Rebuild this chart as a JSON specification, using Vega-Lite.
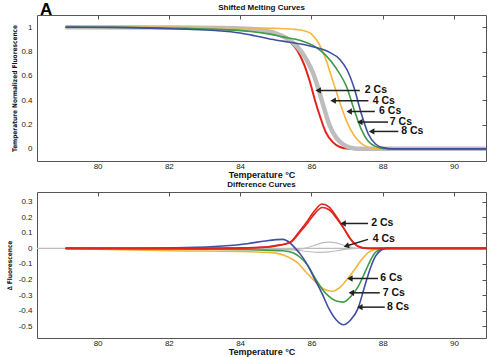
{
  "$schema": "https://vega.github.io/schema/vega-lite/v6.json",
  "background": "white",
  "padding": {"left": 5, "top": 0, "right": 0, "bottom": 0},
  "config": {
    "font": "Liberation Sans",
    "view": {"stroke": "#555", "strokeWidth": 1},
    "axis": {"labelFont": "Liberation Sans", "labelFontSize": 8, "labelColor": "#222", "titleFont": "Liberation Sans", "titleColor": "#111", "domain": false, "ticks": false, "grid": false, "tickColor": "#555"}
  },
  "spacing": 31,
  "bounds": "flush",
  "resolve": {"scale": {"color": "independent"}},
  "datasets": {
    "melt": [
      {"s":"6 Cs","t":79.1,"f":1},{"s":"6 Cs","t":82,"f":0.998},{"s":"6 Cs","t":84,"f":0.995},{"s":"6 Cs","t":85,"f":0.99},{"s":"6 Cs","t":85.5,"f":0.983},{"s":"6 Cs","t":85.8,"f":0.97},{"s":"6 Cs","t":86.0,"f":0.945},{"s":"6 Cs","t":86.2,"f":0.87},{"s":"6 Cs","t":86.4,"f":0.74},{"s":"6 Cs","t":86.6,"f":0.56},{"s":"6 Cs","t":86.8,"f":0.38},{"s":"6 Cs","t":87.0,"f":0.22},{"s":"6 Cs","t":87.2,"f":0.11},{"s":"6 Cs","t":87.4,"f":0.045},{"s":"6 Cs","t":87.6,"f":0.012},{"s":"6 Cs","t":87.8,"f":0},{"s":"6 Cs","t":90.9,"f":0},
      {"s":"7 Cs","t":79.1,"f":1},{"s":"7 Cs","t":81,"f":0.997},{"s":"7 Cs","t":82.5,"f":0.99},{"s":"7 Cs","t":83.5,"f":0.98},{"s":"7 Cs","t":84.3,"f":0.965},{"s":"7 Cs","t":84.8,"f":0.945},{"s":"7 Cs","t":85.2,"f":0.92},{"s":"7 Cs","t":85.7,"f":0.89},{"s":"7 Cs","t":86.1,"f":0.84},{"s":"7 Cs","t":86.4,"f":0.77},{"s":"7 Cs","t":86.7,"f":0.66},{"s":"7 Cs","t":87.0,"f":0.5},{"s":"7 Cs","t":87.2,"f":0.32},{"s":"7 Cs","t":87.4,"f":0.16},{"s":"7 Cs","t":87.6,"f":0.06},{"s":"7 Cs","t":87.8,"f":0.02},{"s":"7 Cs","t":88.0,"f":0.004},{"s":"7 Cs","t":88.2,"f":0},{"s":"7 Cs","t":90.9,"f":0},
      {"s":"8 Cs","t":79.1,"f":1},{"s":"8 Cs","t":80.5,"f":0.998},{"s":"8 Cs","t":81.5,"f":0.992},{"s":"8 Cs","t":82.5,"f":0.983},{"s":"8 Cs","t":83.3,"f":0.972},{"s":"8 Cs","t":84.0,"f":0.952},{"s":"8 Cs","t":84.4,"f":0.93},{"s":"8 Cs","t":84.8,"f":0.905},{"s":"8 Cs","t":85.2,"f":0.885},{"s":"8 Cs","t":85.7,"f":0.862},{"s":"8 Cs","t":86.1,"f":0.835},{"s":"8 Cs","t":86.5,"f":0.795},{"s":"8 Cs","t":86.8,"f":0.735},{"s":"8 Cs","t":87.0,"f":0.65},{"s":"8 Cs","t":87.2,"f":0.5},{"s":"8 Cs","t":87.4,"f":0.29},{"s":"8 Cs","t":87.6,"f":0.12},{"s":"8 Cs","t":87.8,"f":0.04},{"s":"8 Cs","t":88.0,"f":0.01},{"s":"8 Cs","t":88.3,"f":0},{"s":"8 Cs","t":90.9,"f":0},
      {"s":"4 Cs","t":79.1,"f":1},{"s":"4 Cs","t":82,"f":0.997},{"s":"4 Cs","t":84,"f":0.99},{"s":"4 Cs","t":84.6,"f":0.975},{"s":"4 Cs","t":85.0,"f":0.95},{"s":"4 Cs","t":85.3,"f":0.91},{"s":"4 Cs","t":85.6,"f":0.84},{"s":"4 Cs","t":85.85,"f":0.74},{"s":"4 Cs","t":86.05,"f":0.62},{"s":"4 Cs","t":86.2,"f":0.49},{"s":"4 Cs","t":86.35,"f":0.34},{"s":"4 Cs","t":86.5,"f":0.2},{"s":"4 Cs","t":86.7,"f":0.09},{"s":"4 Cs","t":86.9,"f":0.035},{"s":"4 Cs","t":87.1,"f":0.01},{"s":"4 Cs","t":87.3,"f":0},{"s":"4 Cs","t":90.9,"f":0},
      {"s":"2 Cs","t":79.1,"f":1},{"s":"2 Cs","t":82,"f":0.995},{"s":"2 Cs","t":83.5,"f":0.985},{"s":"2 Cs","t":84.3,"f":0.97},{"s":"2 Cs","t":84.8,"f":0.95},{"s":"2 Cs","t":85.1,"f":0.93},{"s":"2 Cs","t":85.4,"f":0.88},{"s":"2 Cs","t":85.6,"f":0.81},{"s":"2 Cs","t":85.8,"f":0.69},{"s":"2 Cs","t":85.95,"f":0.56},{"s":"2 Cs","t":86.1,"f":0.4},{"s":"2 Cs","t":86.25,"f":0.26},{"s":"2 Cs","t":86.4,"f":0.14},{"s":"2 Cs","t":86.6,"f":0.055},{"s":"2 Cs","t":86.8,"f":0.015},{"s":"2 Cs","t":87.0,"f":0.003},{"s":"2 Cs","t":87.2,"f":0},{"s":"2 Cs","t":90.9,"f":0}
    ],
    "diff": [
      {"s":"4 Cs","r":"base","t":78.3,"d":0},{"s":"4 Cs","r":"base","t":90.9,"d":0},
      {"s":"4 Cs","r":"hi","t":79.1,"d":0},{"s":"4 Cs","r":"hi","t":84,"d":0},{"s":"4 Cs","r":"hi","t":85,"d":-0.005},{"s":"4 Cs","r":"hi","t":85.5,"d":-0.008},{"s":"4 Cs","r":"hi","t":85.8,"d":0},{"s":"4 Cs","r":"hi","t":86.1,"d":0.02},{"s":"4 Cs","r":"hi","t":86.3,"d":0.035},{"s":"4 Cs","r":"hi","t":86.5,"d":0.04},{"s":"4 Cs","r":"hi","t":86.7,"d":0.035},{"s":"4 Cs","r":"hi","t":86.9,"d":0.02},{"s":"4 Cs","r":"hi","t":87.1,"d":0.008},{"s":"4 Cs","r":"hi","t":87.3,"d":0},{"s":"4 Cs","r":"hi","t":90.9,"d":0},
      {"s":"4 Cs","r":"lo","t":79.1,"d":0},{"s":"4 Cs","r":"lo","t":85,"d":-0.003},{"s":"4 Cs","r":"lo","t":85.5,"d":-0.01},{"s":"4 Cs","r":"lo","t":85.9,"d":-0.02},{"s":"4 Cs","r":"lo","t":86.2,"d":-0.025},{"s":"4 Cs","r":"lo","t":86.4,"d":-0.024},{"s":"4 Cs","r":"lo","t":86.7,"d":-0.015},{"s":"4 Cs","r":"lo","t":87.0,"d":-0.005},{"s":"4 Cs","r":"lo","t":87.3,"d":0},{"s":"4 Cs","r":"lo","t":90.9,"d":0},
      {"s":"6 Cs","r":"a","t":79.1,"d":0},{"s":"6 Cs","r":"a","t":80,"d":-0.005},{"s":"6 Cs","r":"a","t":82,"d":-0.015},{"s":"6 Cs","r":"a","t":84,"d":-0.02},{"s":"6 Cs","r":"a","t":85,"d":-0.03},{"s":"6 Cs","r":"a","t":85.3,"d":-0.05},{"s":"6 Cs","r":"a","t":85.6,"d":-0.09},{"s":"6 Cs","r":"a","t":85.86,"d":-0.155},{"s":"6 Cs","r":"a","t":86.05,"d":-0.2},{"s":"6 Cs","r":"a","t":86.25,"d":-0.245},{"s":"6 Cs","r":"a","t":86.45,"d":-0.27},{"s":"6 Cs","r":"a","t":86.6,"d":-0.275},{"s":"6 Cs","r":"a","t":86.8,"d":-0.25},{"s":"6 Cs","r":"a","t":87.0,"d":-0.2},{"s":"6 Cs","r":"a","t":87.2,"d":-0.14},{"s":"6 Cs","r":"a","t":87.4,"d":-0.075},{"s":"6 Cs","r":"a","t":87.6,"d":-0.025},{"s":"6 Cs","r":"a","t":87.8,"d":-0.005},{"s":"6 Cs","r":"a","t":88.0,"d":0},{"s":"6 Cs","r":"a","t":90.9,"d":0},
      {"s":"7 Cs","r":"a","t":79.1,"d":0},{"s":"7 Cs","r":"a","t":83,"d":-0.005},{"s":"7 Cs","r":"a","t":84.5,"d":-0.01},{"s":"7 Cs","r":"a","t":85.2,"d":-0.015},{"s":"7 Cs","r":"a","t":85.5,"d":-0.03},{"s":"7 Cs","r":"a","t":85.7,"d":-0.06},{"s":"7 Cs","r":"a","t":85.9,"d":-0.11},{"s":"7 Cs","r":"a","t":86.1,"d":-0.19},{"s":"7 Cs","r":"a","t":86.3,"d":-0.26},{"s":"7 Cs","r":"a","t":86.5,"d":-0.31},{"s":"7 Cs","r":"a","t":86.7,"d":-0.338},{"s":"7 Cs","r":"a","t":86.9,"d":-0.345},{"s":"7 Cs","r":"a","t":87.1,"d":-0.31},{"s":"7 Cs","r":"a","t":87.3,"d":-0.25},{"s":"7 Cs","r":"a","t":87.5,"d":-0.155},{"s":"7 Cs","r":"a","t":87.65,"d":-0.08},{"s":"7 Cs","r":"a","t":87.8,"d":-0.025},{"s":"7 Cs","r":"a","t":87.95,"d":-0.005},{"s":"7 Cs","r":"a","t":88.1,"d":0},{"s":"7 Cs","r":"a","t":90.9,"d":0},
      {"s":"8 Cs","r":"a","t":79.1,"d":0},{"s":"8 Cs","r":"a","t":81,"d":0.001},{"s":"8 Cs","r":"a","t":82.5,"d":0.005},{"s":"8 Cs","r":"a","t":83.5,"d":0.015},{"s":"8 Cs","r":"a","t":84.2,"d":0.03},{"s":"8 Cs","r":"a","t":84.7,"d":0.048},{"s":"8 Cs","r":"a","t":85.2,"d":0.058},{"s":"8 Cs","r":"a","t":85.4,"d":0.035},{"s":"8 Cs","r":"a","t":85.55,"d":0},{"s":"8 Cs","r":"a","t":85.7,"d":-0.04},{"s":"8 Cs","r":"a","t":85.9,"d":-0.11},{"s":"8 Cs","r":"a","t":86.1,"d":-0.2},{"s":"8 Cs","r":"a","t":86.3,"d":-0.29},{"s":"8 Cs","r":"a","t":86.5,"d":-0.39},{"s":"8 Cs","r":"a","t":86.7,"d":-0.46},{"s":"8 Cs","r":"a","t":86.9,"d":-0.49},{"s":"8 Cs","r":"a","t":87.1,"d":-0.46},{"s":"8 Cs","r":"a","t":87.3,"d":-0.39},{"s":"8 Cs","r":"a","t":87.5,"d":-0.24},{"s":"8 Cs","r":"a","t":87.65,"d":-0.13},{"s":"8 Cs","r":"a","t":87.8,"d":-0.05},{"s":"8 Cs","r":"a","t":87.95,"d":-0.012},{"s":"8 Cs","r":"a","t":88.1,"d":0},{"s":"8 Cs","r":"a","t":90.9,"d":0},
      {"s":"2 Cs","r":"a","t":79.1,"d":0},{"s":"2 Cs","r":"a","t":83,"d":0},{"s":"2 Cs","r":"a","t":84,"d":0.002},{"s":"2 Cs","r":"a","t":84.7,"d":0.008},{"s":"2 Cs","r":"a","t":85.0,"d":0.018},{"s":"2 Cs","r":"a","t":85.4,"d":0.04},{"s":"2 Cs","r":"a","t":85.7,"d":0.12},{"s":"2 Cs","r":"a","t":85.9,"d":0.18},{"s":"2 Cs","r":"a","t":86.1,"d":0.245},{"s":"2 Cs","r":"a","t":86.3,"d":0.285},{"s":"2 Cs","r":"a","t":86.5,"d":0.265},{"s":"2 Cs","r":"a","t":86.7,"d":0.205},{"s":"2 Cs","r":"a","t":86.9,"d":0.135},{"s":"2 Cs","r":"a","t":87.1,"d":0.06},{"s":"2 Cs","r":"a","t":87.3,"d":0.015},{"s":"2 Cs","r":"a","t":87.5,"d":0.002},{"s":"2 Cs","r":"a","t":87.7,"d":0},{"s":"2 Cs","r":"a","t":90.9,"d":0},
      {"s":"2 Cs","r":"b","t":79.1,"d":0},{"s":"2 Cs","r":"b","t":83,"d":0},{"s":"2 Cs","r":"b","t":84,"d":0.002},{"s":"2 Cs","r":"b","t":84.7,"d":0.007},{"s":"2 Cs","r":"b","t":85.0,"d":0.016},{"s":"2 Cs","r":"b","t":85.4,"d":0.037},{"s":"2 Cs","r":"b","t":85.7,"d":0.11},{"s":"2 Cs","r":"b","t":85.9,"d":0.165},{"s":"2 Cs","r":"b","t":86.1,"d":0.225},{"s":"2 Cs","r":"b","t":86.3,"d":0.263},{"s":"2 Cs","r":"b","t":86.5,"d":0.248},{"s":"2 Cs","r":"b","t":86.7,"d":0.195},{"s":"2 Cs","r":"b","t":86.9,"d":0.13},{"s":"2 Cs","r":"b","t":87.1,"d":0.058},{"s":"2 Cs","r":"b","t":87.3,"d":0.014},{"s":"2 Cs","r":"b","t":87.5,"d":0.002},{"s":"2 Cs","r":"b","t":87.7,"d":0},{"s":"2 Cs","r":"b","t":90.9,"d":0}
    ],
    "arrows": [
      {"p":"top","label":"2 Cs","x1":87.36,"y1":0.48,"x2":86.19,"y2":0.48,"tx":87.5,"ty":0.48},
      {"p":"top","label":"4 Cs","x1":87.6,"y1":0.396,"x2":86.61,"y2":0.396,"tx":87.72,"ty":0.396},
      {"p":"top","label":"6 Cs","x1":87.78,"y1":0.307,"x2":87.06,"y2":0.307,"tx":87.9,"ty":0.307},
      {"p":"top","label":"7 Cs","x1":88.15,"y1":0.22,"x2":87.36,"y2":0.22,"tx":88.2,"ty":0.22},
      {"p":"top","label":"8 Cs","x1":88.44,"y1":0.143,"x2":87.69,"y2":0.143,"tx":88.52,"ty":0.143},
      {"p":"bot","label":"2 Cs","x1":87.59,"y1":0.16,"x2":86.89,"y2":0.16,"tx":87.68,"ty":0.16},
      {"p":"bot","label":"4 Cs","x1":87.59,"y1":0.058,"x2":86.98,"y2":0.015,"tx":87.72,"ty":0.062},
      {"p":"bot","label":"6 Cs","x1":87.87,"y1":-0.193,"x2":87.08,"y2":-0.193,"tx":87.93,"ty":-0.193},
      {"p":"bot","label":"7 Cs","x1":87.92,"y1":-0.285,"x2":87.12,"y2":-0.285,"tx":88.0,"ty":-0.285},
      {"p":"bot","label":"8 Cs","x1":88.06,"y1":-0.377,"x2":87.36,"y2":-0.377,"tx":88.12,"ty":-0.377}
    ]
  },
  "vconcat": [
    {
      "width": 449,
      "height": 146,
      "layer": [
        {
          "data": {"name": "melt"},
          "transform": [{"filter": "datum.s === '2 Cs'"}],
          "mark": {"type": "line", "strokeWidth": 2, "color": "#e2231a", "interpolate": "monotone"},
          "encoding": {
            "x": {"field": "t", "type": "quantitative", "scale": {"domain": [78.3, 90.9], "nice": false, "zero": false},
                  "axis": {"orient": "bottom", "title": "Temperature °C", "values": [80, 82, 84, 86, 88, 90], "labelPadding": 1, "titlePadding": 0, "titleFontSize": 9, "titleFontWeight": "bold"}},
            "y": {"field": "f", "type": "quantitative", "scale": {"domain": [-0.1, 1.1], "nice": false, "zero": false},
                  "axis": {"orient": "left", "title": "Temperature Normalized Fluorescence", "values": [0, 0.2, 0.4, 0.6, 0.8, 1], "labelExpr": "'' + datum.value", "labelPadding": 5, "titleFont": "DejaVu Sans Condensed, Liberation Sans Narrow, Liberation Sans, sans-serif", "titleFontSize": 6.5, "titleFontWeight": "bold", "titlePadding": 3}}
          }
        },
        {
          "data": {"name": "melt"},
          "transform": [{"filter": "datum.s === '4 Cs'"}],
          "mark": {"type": "line", "strokeWidth": 4.5, "color": "#bdbdbd", "interpolate": "monotone"},
          "encoding": {
            "x": {"field": "t", "type": "quantitative", "axis": {"orient": "top", "labels": false, "ticks": true, "tickSize": -4, "title": null, "values": [80, 82, 84, 86, 88, 90]}},
            "y": {"field": "f", "type": "quantitative", "axis": {"orient": "right", "labels": false, "ticks": true, "tickSize": -4, "title": null, "values": [0, 0.2, 0.4, 0.6, 0.8, 1]}}
          }
        },
        {
          "data": {"name": "melt"},
          "transform": [{"filter": "datum.s !== '4 Cs' && datum.s !== '2 Cs'"}],
          "mark": {"type": "line", "strokeWidth": 1.6, "interpolate": "monotone"},
          "encoding": {
            "x": {"field": "t", "type": "quantitative", "axis": null},
            "y": {"field": "f", "type": "quantitative", "axis": null},
            "color": {"field": "s", "type": "nominal", "scale": {"domain": ["6 Cs", "7 Cs", "8 Cs"], "range": ["#f4b63c", "#3f9b45", "#3f4fa0"]}, "legend": null}
          }
        },
        {
          "data": {"name": "arrows"},
          "transform": [{"filter": "datum.p === 'top'"}],
          "mark": {"type": "rule", "strokeWidth": 1.5, "color": "#222"},
          "encoding": {
            "x": {"field": "x1", "type": "quantitative", "axis": null},
            "x2": {"field": "x2"},
            "y": {"field": "y1", "type": "quantitative", "axis": null},
            "y2": {"field": "y2"}
          }
        },
        {
          "data": {"name": "arrows"},
          "transform": [{"filter": "datum.p === 'top'"}],
          "mark": {"type": "point", "shape": "triangle-left", "filled": true, "size": 40, "color": "#222", "opacity": 1},
          "encoding": {
            "x": {"field": "x2", "type": "quantitative", "axis": null},
            "y": {"field": "y2", "type": "quantitative", "axis": null}
          }
        },
        {
          "data": {"name": "arrows"},
          "transform": [{"filter": "datum.p === 'top'"}],
          "mark": {"type": "text", "align": "left", "baseline": "middle", "fontSize": 10.5, "fontWeight": "bold", "color": "#111"},
          "encoding": {
            "x": {"field": "tx", "type": "quantitative", "axis": null},
            "y": {"field": "ty", "type": "quantitative", "axis": null},
            "text": {"field": "label"}
          }
        },
        {
          "data": {"values": [{}]},
          "mark": {"type": "text", "text": "A", "align": "left", "baseline": "alphabetic", "fontSize": 17, "fontWeight": "bold", "color": "#000", "dx": 3, "dy": 0},
          "encoding": {
            "x": {"datum": 78.3, "type": "quantitative", "axis": null},
            "y": {"datum": 1.1, "type": "quantitative", "axis": null}
          }
        },
        {
          "data": {"values": [{}]},
          "mark": {"type": "text", "text": "Shifted Melting Curves", "align": "center", "baseline": "middle", "fontSize": 8, "fontWeight": "bold", "color": "#111", "dy": -7},
          "encoding": {
            "x": {"datum": 84.6, "type": "quantitative", "axis": null},
            "y": {"datum": 1.1, "type": "quantitative", "axis": null}
          }
        }
      ],
      "resolve": {"axis": {"x": "independent", "y": "independent"}}
    },
    {
      "width": 449,
      "height": 146,
      "layer": [
        {
          "data": {"name": "diff"},
          "transform": [{"filter": "datum.s === '4 Cs'"}],
          "mark": {"type": "line", "strokeWidth": 1.2, "color": "#bdbdbd", "interpolate": "monotone"},
          "encoding": {
            "x": {"field": "t", "type": "quantitative", "scale": {"domain": [78.3, 90.9], "nice": false, "zero": false},
                  "axis": {"orient": "bottom", "title": "Temperature °C", "values": [80, 82, 84, 86, 88, 90], "labelPadding": 1, "titlePadding": 0, "titleFontSize": 9, "titleFontWeight": "bold"}},
            "y": {"field": "d", "type": "quantitative", "scale": {"domain": [-0.575, 0.362], "nice": false, "zero": false},
                  "axis": {"orient": "left", "title": "∆ Fluorescence", "values": [-0.5, -0.4, -0.3, -0.2, -0.1, 0, 0.1, 0.2, 0.3], "labelExpr": "'' + datum.value", "labelPadding": 5, "titleFont": "DejaVu Sans Condensed, Liberation Sans Narrow, Liberation Sans, sans-serif", "titleFontSize": 6.5, "titleFontWeight": "bold", "titlePadding": 6}},
            "detail": {"field": "r"}
          }
        },
        {
          "data": {"name": "diff"},
          "transform": [{"filter": "datum.s !== '4 Cs'"}],
          "mark": {"type": "line", "strokeWidth": 1.6, "interpolate": "monotone"},
          "encoding": {
            "x": {"field": "t", "type": "quantitative", "axis": {"orient": "top", "labels": false, "ticks": true, "tickSize": -4, "title": null, "values": [80, 82, 84, 86, 88, 90]}},
            "y": {"field": "d", "type": "quantitative", "axis": {"orient": "right", "labels": false, "ticks": true, "tickSize": -4, "title": null, "values": [-0.5, -0.4, -0.3, -0.2, -0.1, 0, 0.1, 0.2, 0.3]}},
            "color": {"field": "s", "type": "nominal", "scale": {"domain": ["6 Cs", "7 Cs", "8 Cs", "2 Cs"], "range": ["#f4b63c", "#3f9b45", "#3f4fa0", "#e2231a"]}, "legend": null},
            "detail": {"field": "r"}
          }
        },
        {
          "data": {"name": "arrows"},
          "transform": [{"filter": "datum.p === 'bot'"}],
          "mark": {"type": "rule", "strokeWidth": 1.5, "color": "#222"},
          "encoding": {
            "x": {"field": "x1", "type": "quantitative", "axis": null},
            "x2": {"field": "x2"},
            "y": {"field": "y1", "type": "quantitative", "axis": null},
            "y2": {"field": "y2"}
          }
        },
        {
          "data": {"name": "arrows"},
          "transform": [{"filter": "datum.p === 'bot'"}],
          "mark": {"type": "point", "shape": "triangle-left", "filled": true, "size": 40, "color": "#222", "opacity": 1},
          "encoding": {
            "x": {"field": "x2", "type": "quantitative", "axis": null},
            "y": {"field": "y2", "type": "quantitative", "axis": null},
            "angle": {"condition": {"test": "datum.label === '4 Cs'", "value": 343}, "value": 0}
          }
        },
        {
          "data": {"name": "arrows"},
          "transform": [{"filter": "datum.p === 'bot'"}],
          "mark": {"type": "text", "align": "left", "baseline": "middle", "fontSize": 10.5, "fontWeight": "bold", "color": "#111"},
          "encoding": {
            "x": {"field": "tx", "type": "quantitative", "axis": null},
            "y": {"field": "ty", "type": "quantitative", "axis": null},
            "text": {"field": "label"}
          }
        },
        {
          "data": {"values": [{}]},
          "mark": {"type": "text", "text": "Difference Curves", "align": "center", "baseline": "middle", "fontSize": 8, "fontWeight": "bold", "color": "#111", "dy": -7},
          "encoding": {
            "x": {"datum": 84.6, "type": "quantitative", "axis": null},
            "y": {"datum": 0.362, "type": "quantitative", "axis": null}
          }
        }
      ],
      "resolve": {"axis": {"x": "independent", "y": "independent"}}
    }
  ]
}
